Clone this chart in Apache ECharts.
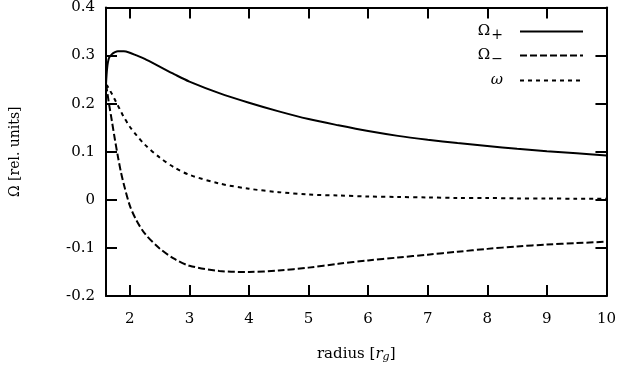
<!DOCTYPE html>
<html>
<head>
<meta charset="utf-8">
<script src="https://cdn.jsdelivr.net/npm/echarts@6/dist/echarts.min.js"></script>
<style>
  html, body { margin: 0; padding: 0; background: #fff; }
  #Ebox { width: 619px; height: 369px; }
</style>
</head>
<body>
<div id="Ebox"></div>
<script>
// radius in units of r_g
var radius = [1.6, 1.62, 1.65, 1.7, 1.75, 1.8, 1.85, 1.9, 2.0, 2.1, 2.25, 2.5, 2.75, 3,
  3.5, 4, 4.5, 5, 5.5, 6, 6.5, 7, 7.5, 8, 8.5, 9, 9.5, 10];
var omegaPlus = [0.24, 0.275, 0.295, 0.303, 0.307, 0.309, 0.309, 0.309, 0.306, 0.301, 0.293, 0.277, 0.261, 0.246,
  0.222, 0.202, 0.184, 0.168, 0.155, 0.143, 0.133, 0.125, 0.118, 0.112, 0.106, 0.101, 0.097, 0.092];
var omegaMinus = [0.24, 0.225, 0.2, 0.163, 0.125, 0.09, 0.058, 0.032, -0.012, -0.04, -0.07, -0.101, -0.123, -0.137,
  -0.148, -0.15, -0.147, -0.141, -0.133, -0.126, -0.12, -0.114, -0.108, -0.102, -0.097, -0.093, -0.09, -0.087];
var omegaFrame = [0.24, 0.237, 0.231, 0.22, 0.208, 0.196, 0.184, 0.172, 0.152, 0.136, 0.115, 0.088, 0.067, 0.052,
  0.034, 0.023, 0.016, 0.011, 0.009, 0.007, 0.006, 0.005, 0.004, 0.004, 0.003, 0.003, 0.002, 0.002];
var xTicks = [2, 3, 4, 5, 6, 7, 8, 9, 10];
var seriesNames = ["Omega+", "Omega-", "omega"];
var legendText = {
  "Omega+": "{b|Ω}{s|+}",
  "Omega-": "{b|Ω}{s|−}",
  "omega": "{i|ω}"
};

function pairs(ys) {
  return radius.map(function (r, i) { return [r, ys[i]]; });
}

var font = "DejaVu Serif";
var axisLine = { show: true, onZero: false, lineStyle: { color: "#000", width: 2 } };
var tick = { inside: true, length: 11, lineStyle: { color: "#000", width: 2 } };

var legendRich = {
  b: { fontFamily: font, fontSize: 15, color: "#000" },
  s: { fontFamily: font, fontSize: 14, color: "#000", padding: [8, 0, 0, 1] },
  i: { fontFamily: font, fontSize: 15, fontStyle: "italic", color: "#000" }
};

function legendAt(name, top) {
  return {
    data: [name],
    right: 30,
    top: top,
    orient: "vertical",
    align: "right",
    itemWidth: 63,
    itemHeight: 14,
    itemGap: 0,
    selectedMode: false,
    itemStyle: { opacity: 0 },
    formatter: function (n) { return legendText[n]; },
    textStyle: { padding: [0, 12, 0, 0], rich: legendRich }
  };
}

var myChart = echarts.init(document.getElementById("Ebox"));
var option = {
  animation: false,
  backgroundColor: "#fff",
  grid: { left: 103, right: 9, top: 7, bottom: 73 },
  legend: [
    legendAt(seriesNames[0], 19),
    legendAt(seriesNames[1], 43),
    legendAt(seriesNames[2], 68)
  ],
  xAxis: [
    {
      type: "value",
      min: 1.6,
      max: 10,
      name: "radius [{i|r}{s|g}]",
      nameLocation: "middle",
      nameGap: 50,
      nameTextStyle: {
        fontFamily: font, fontSize: 15, color: "#000",
        rich: {
          i: { fontFamily: font, fontSize: 15, fontStyle: "italic", color: "#000" },
          s: { fontFamily: font, fontSize: 11, fontStyle: "italic", color: "#000", padding: [6, 0, 0, 0] }
        }
      },
      axisLine: axisLine,
      axisTick: Object.assign({ customValues: xTicks }, tick),
      axisLabel: { customValues: xTicks, margin: 16, fontFamily: font, fontSize: 15, color: "#000" },
      splitLine: { show: false }
    },
    {
      type: "value",
      position: "top",
      min: 1.6,
      max: 10,
      axisLine: axisLine,
      axisTick: Object.assign({ customValues: xTicks }, tick),
      axisLabel: { show: false },
      splitLine: { show: false }
    }
  ],
  yAxis: [
    {
      type: "value",
      min: -0.2,
      max: 0.4,
      interval: 0.1,
      name: "Ω [rel. units]",
      nameLocation: "middle",
      nameGap: 84,
      nameTextStyle: { fontFamily: font, fontSize: 14, color: "#000" },
      axisLine: axisLine,
      axisTick: tick,
      axisLabel: {
        margin: 11, fontFamily: font, fontSize: 15, color: "#000",
        formatter: function (v) { return String(Math.round(v * 10) / 10); }
      },
      splitLine: { show: false }
    },
    {
      type: "value",
      position: "right",
      min: -0.2,
      max: 0.4,
      interval: 0.1,
      axisLine: axisLine,
      axisTick: tick,
      axisLabel: { show: false },
      splitLine: { show: false }
    }
  ],
  series: [
    {
      name: seriesNames[0],
      type: "line",
      data: pairs(omegaPlus),
      symbol: "none",
      smooth: 0.3,
      lineStyle: { color: "#000", width: 2, type: "solid" },
      itemStyle: { color: "#000" }
    },
    {
      name: seriesNames[1],
      type: "line",
      data: pairs(omegaMinus),
      symbol: "none",
      smooth: 0.3,
      lineStyle: { color: "#000", width: 2, type: [7, 3] },
      itemStyle: { color: "#000" }
    },
    {
      name: seriesNames[2],
      type: "line",
      data: pairs(omegaFrame),
      symbol: "none",
      smooth: 0.3,
      lineStyle: { color: "#000", width: 2, type: [4, 4] },
      itemStyle: { color: "#000" }
    }
  ]
};

myChart.setOption(option);
</script>
</body>
</html>
